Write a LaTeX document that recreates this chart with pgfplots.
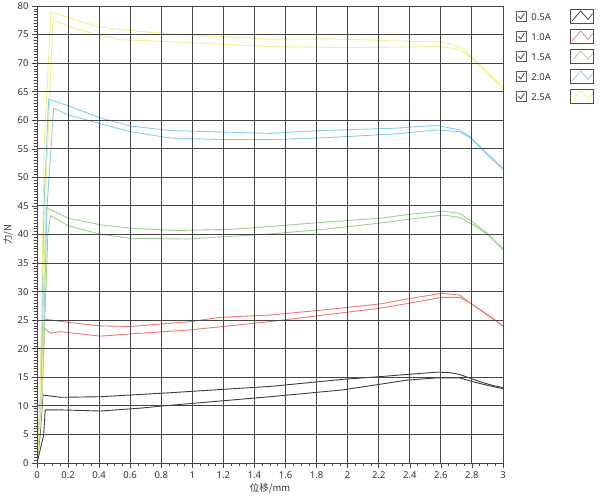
\documentclass[border=0pt]{standalone}
\usepackage{fontspec}
\setmainfont{Noto Sans}
\newfontfamily\cjk{Noto Sans CJK SC}
\usepackage{pgfplots}
\pgfplotsset{compat=1.18}
\definecolor{cblack}{RGB}{60,60,60}
\definecolor{cred}{RGB}{238,120,115}
\definecolor{cgreen}{RGB}{155,208,145}
\definecolor{cblue}{RGB}{135,205,238}
\definecolor{cyellow}{RGB}{243,240,140}
\definecolor{gridc}{RGB}{70,70,70}
\newcommand{\chk}{\tikz[baseline=0pt]{\draw[black!65,line width=0.7bp] (0,-0.8bp) rectangle (9.5bp,8.7bp); \draw[black!75,line width=0.8bp] (2bp,4bp) -- (4.2bp,1.4bp) -- (7.8bp,7bp);}}
\newcommand{\lab}[1]{\makebox[54bp][l]{\chk\hspace{5bp}#1}}
\begin{document}
\begin{tikzpicture}
\begin{axis}[
  at={(37bp,37bp)}, anchor=south west,
  width=466bp, height=457bp, scale only axis,
  xmin=0, xmax=3, ymin=0, ymax=80,
  xtick={0,0.2,0.4,0.6,0.8,1,1.2,1.4,1.6,1.8,2,2.2,2.4,2.6,2.8,3},
  xticklabels={0,0.2,0.4,0.6,0.8,1,1.2,1.4,1.6,1.8,2,2.2,2.4,2.6,2.8,3},
  ytick={0,5,...,80},
  minor x tick num=3, minor y tick num=9,
  tick pos=left, tick align=outside,
  major tick length=5bp, minor tick length=2.5bp,
  every tick/.style={gridc, line width=0.6bp},
  grid=major,
  major grid style={gridc, line width=0.9bp},
  axis line style={gridc, line width=0.9bp},
  axis on top=true,
  ticklabel style={font=\fontsize{9.5bp}{10bp}\selectfont, text=black!80},
  /pgf/number format/assume math mode=true,
  xlabel={\cjk 位移/mm}, ylabel={\cjk 力/N},
  label style={font=\fontsize{9.5bp}{10bp}\selectfont, text=black!80},
  xlabel style={yshift=2bp},
  ylabel style={yshift=-2bp},
  legend plot pos=right,
  legend cell align=left,
  legend style={at={(1,1)}, anchor=north west, xshift=13bp, yshift=-3bp,
    draw=none, fill=none, inner sep=0pt, row sep=5.3bp, column sep=0pt,
    font=\fontsize{9.5bp}{10bp}\selectfont, text=black!80,
    nodes={inner sep=0pt}},
  legend image code/.code={
    \draw[draw=black!70, fill=white, solid, line width=0.7bp] (0bp,-7bp) rectangle (23bp,7bp);
    \draw[#1, line width=0.7bp] (1.6bp,-4.4bp) -- (10bp,5.6bp) -- (17.6bp,-3bp) -- (22bp,3bp);
  },
  every axis plot/.append style={line width=0.9bp},
]
% 0.5A
\addplot[cblack] coordinates {(0,0)(0.02,5)(0.038,11.9)(0.15,11.5)(0.408,11.6)(0.858,12.3)(1.2,12.9)(1.5,13.4)(1.97,14.65)(2.2,15.1)(2.38,15.5)(2.574,15.9)(2.65,15.85)(2.72,15.5)(2.855,14.2)(2.93,13.6)(3.0,13.2)};
\addlegendentry{\lab{0.5A}}
\addplot[cblack, forget plot] coordinates {(0,0)(0.043,4.9)(0.053,9.3)(0.15,9.3)(0.408,9.1)(0.665,9.6)(0.815,10.0)(1.2,10.9)(1.5,11.6)(1.97,12.8)(2.38,14.5)(2.574,14.9)(2.72,14.9)(2.81,14.2)(2.9,13.6)(3.0,13.0)};
% 1.0A
\addplot[cred] coordinates {(0,0)(0.02,10)(0.043,25.2)(0.204,24.6)(0.408,24.0)(0.6,23.9)(0.987,24.75)(1.18,25.5)(1.5,25.9)(1.845,26.8)(2.21,27.85)(2.403,28.8)(2.606,29.7)(2.72,29.4)(2.79,28.0)(2.92,25.6)(3.0,24.0)};
\addlegendentry{\lab{1.0A}}
\addplot[cred, forget plot] coordinates {(0,0)(0.03,10)(0.047,23.6)(0.086,22.7)(0.15,23.0)(0.408,22.2)(0.6,22.6)(0.987,23.3)(1.5,24.75)(1.845,25.9)(2.21,27.1)(2.403,28.0)(2.606,29.0)(2.72,29.0)(2.79,28.0)(2.92,25.5)(3.0,24.0)};
% 1.5A
\addplot[cgreen] coordinates {(0,0)(0.02,10)(0.06,44.7)(0.204,42.85)(0.408,41.7)(0.6,41.1)(0.9,40.7)(1.245,40.9)(1.5,41.4)(1.845,42.15)(2.21,42.85)(2.403,43.55)(2.617,44.1)(2.72,43.7)(2.81,42.1)(2.9,40.2)(3.0,37.3)};
\addlegendentry{\lab{1.5A}}
\addplot[cgreen, forget plot] coordinates {(0,0)(0.03,10)(0.07,40)(0.086,43.3)(0.204,41.5)(0.408,40.05)(0.6,39.35)(0.966,39.2)(1.5,40.1)(1.845,40.9)(2.21,42.0)(2.403,42.7)(2.617,43.4)(2.72,43.0)(2.81,41.7)(2.9,40.0)(3.0,37.6)};
% 2.0A
\addplot[cblue] coordinates {(0,0)(0.02,10)(0.045,45)(0.075,63.7)(0.204,62.5)(0.408,60.4)(0.6,59.0)(0.858,58.2)(1.5,57.7)(1.824,58.2)(2.3,58.6)(2.574,59.1)(2.72,58.3)(2.79,57.1)(2.875,54.8)(3.0,51.6)};
\addlegendentry{\lab{2.0A}}
\addplot[cblue, forget plot] coordinates {(0,0)(0.03,10)(0.065,45)(0.107,62.1)(0.204,60.9)(0.408,59.4)(0.6,58.0)(0.858,56.9)(1.2,56.6)(1.5,56.6)(1.824,56.9)(2.3,57.6)(2.574,58.3)(2.72,58.0)(2.79,56.9)(2.875,54.6)(3.0,51.4)};
% 2.5A
\addplot[cyellow] coordinates {(0,0)(0.02,10)(0.045,55)(0.09,79.0)(0.204,77.9)(0.408,76.3)(0.6,75.7)(0.86,75.1)(1.5,74.2)(1.89,74.25)(2.3,73.9)(2.6,73.7)(2.68,73.3)(2.75,72.3)(2.8,71.0)(2.855,69.6)(3.0,65.8)};
\addlegendentry{\lab{2.5A}}
\addplot[cyellow, forget plot] coordinates {(0,0)(0.03,10)(0.06,50)(0.103,77.6)(0.204,76.4)(0.386,74.96)(0.536,74.1)(0.815,73.8)(1.5,72.9)(2.06,72.7)(2.6,72.9)(2.7,72.5)(2.76,71.7)(2.8,70.8)(2.855,69.4)(3.0,65.6)};
\end{axis}
\pgfresetboundingbox
\useasboundingbox (0,0) rectangle (600bp,500bp);
\end{tikzpicture}
\end{document}
